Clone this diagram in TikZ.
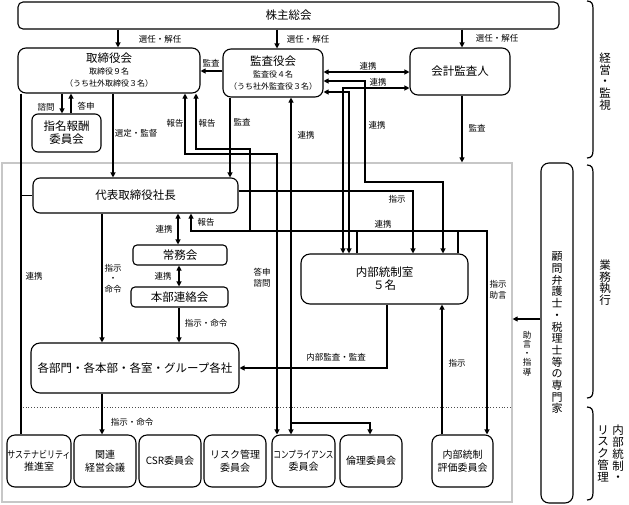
\documentclass[tikz,border=0pt]{standalone}
\usepackage{fontspec}
\usepackage{graphicx}
\setmainfont{Noto Sans CJK JP}
\usetikzlibrary{arrows.meta}
\begin{document}
\begin{tikzpicture}[x=1pt,y=-1pt,line width=1.1pt,
  box/.style={draw,rounded corners=6pt,align=center,inner sep=0pt,line width=1.1pt},
  big/.style={font=\fontsize{11.5}{13}\selectfont},
  bbox/.style={box,rounded corners=8pt,minimum width=62pt,minimum height=52pt,font=\fontsize{10}{12.5}\selectfont},
  lab/.style={font=\fontsize{8.5}{10}\selectfont,inner sep=0pt,align=center},
  side/.style={font=\fontsize{11.5}{11.7}\selectfont,inner sep=0pt,align=center},
  arr/.style={-{Triangle[length=5pt,width=5pt]}},
  darr/.style={{Triangle[length=5pt,width=5pt]}-{Triangle[length=5pt,width=5pt]}},
  brace/.style={line width=1.2pt}]
\useasboundingbox (0,0) rectangle (629,504);
\foreach \x in {21,62,71,102,113,118,178,179,185,191,196,230,250,277,291,343,349,357,365,370,387,413,442,443,458,462,487}
  \coordinate (v\x) at (\x,0);
\foreach \y in {71,72,81,88,92,149,154,182,191,231,319,407,423}
  \coordinate (h\y) at (0,\y);
\coordinate (v20) at (20,0);
% region
\node[draw=black!22,line width=1.2pt,minimum width=510pt,minimum height=339pt,inner sep=0pt] (area) at (257,332.5) {};
\draw[dotted,line width=0.8pt,black!70] (v20 |- h407) -- (area.east |- h407);
% boxes
\node[box,big,rounded corners=5pt,minimum width=541pt,minimum height=27pt] (kabu) at (288.5,15.5) {株主総会};
\node[box,rounded corners=8pt,minimum width=182pt,minimum height=45pt] (tori) at (109,70.5)
  {{\fontsize{11.5}{12}\selectfont 取締役会}\\{\fontsize{8}{10}\selectfont 取締役９名}\\{\fontsize{8}{10}\selectfont （うち社外取締役３名）}};
\node[box,rounded corners=8pt,minimum width=100pt,minimum height=48pt] (kansa) at (273,73)
  {{\fontsize{11.5}{12}\selectfont 監査役会}\\{\fontsize{8}{10}\selectfont 監査役４名}\\{\fontsize{8}{10}\selectfont （うち社外監査役３名）}};
\node[box,big,rounded corners=8pt,minimum width=100pt,minimum height=47pt] (kaikei) at (460,71.5) {会計監査人};
\node[box,big,minimum width=69pt,minimum height=38pt] (shimei) at (66.5,133) {指名報酬\\委員会};
\node[box,big,rounded corners=7pt,minimum width=205pt,minimum height=35pt] (shacho) at (135.5,195.5) {代表取締役社長};
\node[box,big,rounded corners=4pt,minimum width=94pt,minimum height=20pt] (jomu) at (180,255) {常務会};
\node[box,big,rounded corners=4pt,minimum width=97pt,minimum height=20pt] (honbu) at (179.5,297) {本部連絡会};
\node[box,big,rounded corners=9pt,minimum width=208pt,minimum height=50pt] (kakubu) at (135,368) {各部門・各本部・各室・グループ各社};
\node[box,big,rounded corners=9pt,minimum width=167pt,minimum height=50pt] (naibu) at (384.5,279) {内部統制室\\５名};
\node[bbox,minimum width=64pt] (sus) at (39,461) {\scalebox{0.8}[1]{サステナビリティ}\\推進室};
\node[bbox] (kanren) at (105,461) {関連\\経営会議};
\node[bbox] (csr) at (170,461) {CSR委員会};
\node[bbox] (risk) at (235,461) {リスク管理\\委員会};
\node[bbox,minimum width=63pt] (comp) at (303.5,461) {\scalebox{0.76}[1]{コンプライアンス}\\委員会};
\node[bbox] (rinri) at (371,461) {倫理委員会};
\node[bbox,minimum width=61pt] (hyoka) at (462.5,461) {内部統制\\評価委員会};
\node[box,rounded corners=8pt,minimum width=32pt,minimum height=340pt,font=\fontsize{11}{11.7}\selectfont] (senmon) at (557,333)
  {顧\\問\\弁\\護\\士\\・\\税\\理\\士\\等\\の\\専\\門\\家};
% connectors
\draw[arr] (kabu.south -| v118) -- (tori.north -| v118);
\draw[arr] (kabu.south -| v277) -- (kansa.north -| v277);
\draw[arr] (kabu.south -| v462) -- (kaikei.north -| v462);
\draw[arr] (kansa.west |- h71) -- (tori.east |- h71);
\draw[darr] (kansa.east |- h72) -- (kaikei.west |- h72);
\draw[darr] (kansa.east |- h81) -| (v365 |- h182) -| (naibu.north -| v443);
\draw[darr] (kaikei.west |- h88) -| (naibu.north -| v343);
\draw[darr] (kansa.east |- h92) -| (naibu.north -| v349);
\draw[arr] (shacho.east |- h191) -| (naibu.north -| v413);
\draw[arr] (naibu.north -| v357) |- (v191 |- h231) -- (shacho.south -| v191);
\draw (v357 |- h231) -- (v458 |- h231);
\draw[arr] (naibu.north -| v458) |- (v487 |- h231) -- (hyoka.north -| v487);
\draw[arr] (v250 |- h231) |- (v196 |- h149) -- (tori.south -| v196);
\draw[darr] (tori.south -| v185) |- (v277 |- h154) -- (comp.north -| v277);
\draw[darr] (kansa.south -| v291) -- (comp.north -| v291);
\draw[arr] (v291 |- h423) -| (rinri.north -| v370);
\draw[arr] (kansa.south -| v230) -- (shacho.north -| v230);
\draw[arr] (tori.south -| v62) -- (shimei.north -| v62);
\draw[arr] (shimei.north -| v71) -- (tori.south -| v71);
\draw[arr] (tori.south -| v113) -- (shacho.north -| v113);
\draw (tori.south -| v21) -- (sus.north -| v21);
\draw (v21 |- shacho.west) -- (shacho.west);
\draw[arr] (shacho.south -| v102) -- (kakubu.north -| v102);
\draw[darr] (shacho.south -| v178) -- (jomu.north -| v178);
\draw[darr] (jomu.south -| v179) -- (honbu.north -| v179);
\draw[arr] (honbu.south -| v179) -- (kakubu.north -| v179);
\draw[arr] (naibu.south -| v387) |- (kakubu.east);
\draw[arr] (hyoka.north -| v442) -- (naibu.south -| v442);
\draw[arr] (kakubu.south -| v102) -- (kanren.north -| v102);
\draw[arr] (kaikei.south -| v462) -- (area.north -| v462);
\draw[arr] (senmon.west |- h319) -- (area.east |- h319);
% labels
\node[lab] (l1) at (160,39) {選任・解任};
\node[lab] (l2) at (308,39) {選任・解任};
\node[lab] (l3) at (497,38) {選任・解任};
\node[lab] (l4) at (211,63) {監査};
\node[lab] (l5) at (368,66) {連携};
\node[lab] (l6) at (378,82) {連携};
\node[lab] (l7) at (377,125) {連携};
\node[lab] (l8) at (477,128) {監査};
\node[lab] (l9) at (46,107) {諮問};
\node[lab] (l10) at (86,106) {答申};
\node[lab] (l11) at (175,123) {報告};
\node[lab] (l12) at (207,123) {報告};
\node[lab] (l13) at (242,122) {監査};
\node[lab] (l14) at (306,135) {連携};
\node[lab] (l15) at (136,133) {選定・監督};
\node[lab] (l16) at (397,199) {指示};
\node[lab] (l17) at (206,222) {報告};
\node[lab] (l18) at (164,229) {連携};
\node[lab] (l19) at (383,224) {連携};
\node[lab] (l20) at (34,276) {連携};
\node[lab,font=\fontsize{8.5}{10.5}\selectfont] (l21) at (113,278.5) {指示\\・\\命令};
\node[lab] (l22) at (163,276) {連携};
\node[lab,font=\fontsize{8.5}{11}\selectfont] (l23) at (262,277.5) {答申\\諮問};
\node[lab,font=\fontsize{8.5}{10.5}\selectfont] (l24) at (498,290) {指示\\助言};
\node[lab] (l25) at (206,323) {指示・命令};
\node[lab] (l26) at (336,357) {内部監査・監査};
\node[lab] (l27) at (457,363) {指示};
\node[lab,font=\fontsize{8.5}{9.2}\selectfont] (l28) at (527,353.5) {助\\言\\・\\指\\導};
\node[lab] (l29) at (132,422) {指示・命令};
% side braces
\draw[brace] (587,1) .. controls (592,1) and (593,4) .. (593,9) -- (593,150) .. controls (593,155) and (592,158) .. (587,158);
\draw[brace] (587,165) .. controls (592,165) and (593,168) .. (593,173) -- (593,390) .. controls (593,395) and (592,398) .. (587,398);
\draw[brace] (587,407) .. controls (592,407) and (593,410) .. (593,415) -- (593,492) .. controls (593,497) and (592,500) .. (587,500);
\node[side] (s1) at (605,81.5) {経\\営\\・\\監\\視};
\node[side] (s2) at (605,282.5) {業\\務\\執\\行};
\node[side] (s3) at (618,453.5) {内\\部\\統\\制\\・};
\node[side] (s4) at (603,453.5) {リ\\ス\\ク\\管\\理};
\end{tikzpicture}
\end{document}
